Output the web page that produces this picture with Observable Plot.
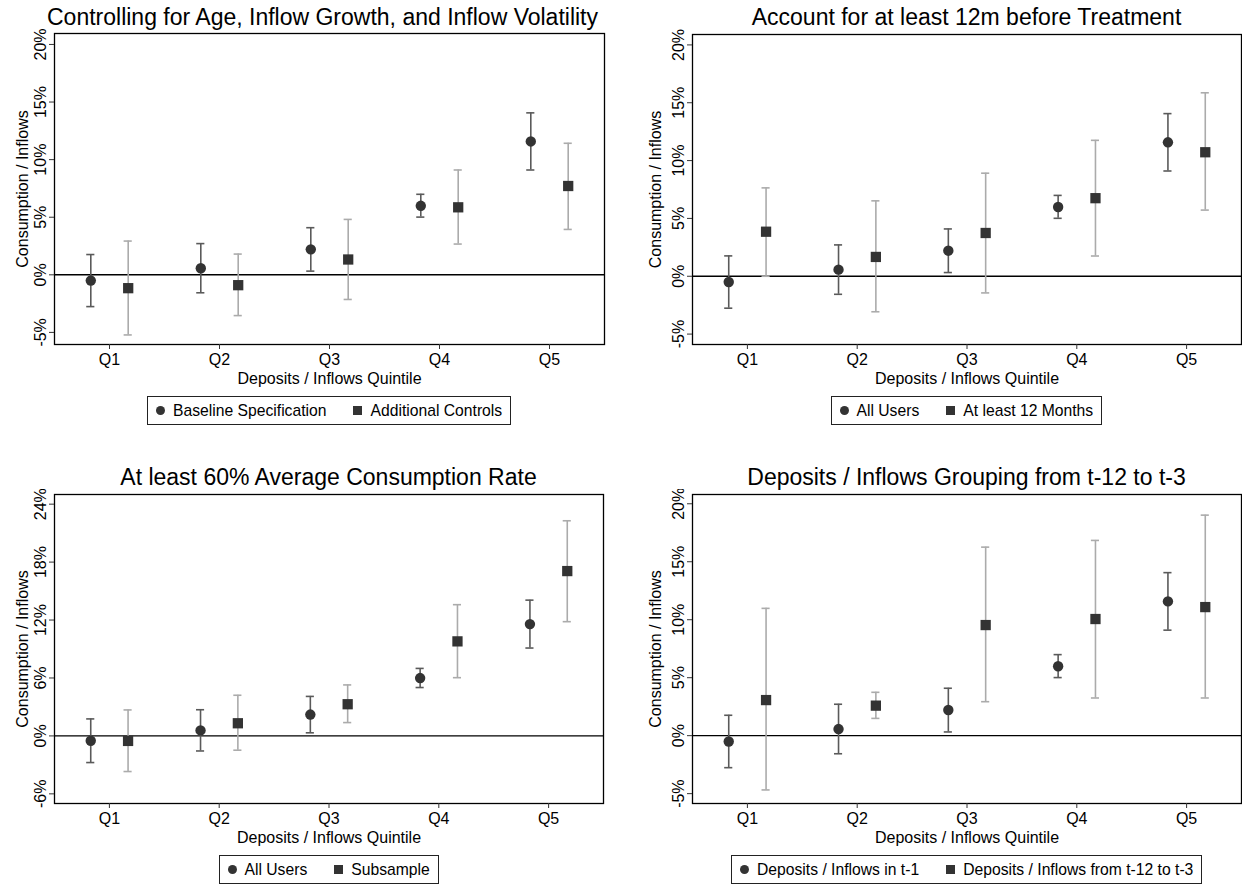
<!DOCTYPE html>
<html><head><meta charset="utf-8">
<script src="https://cdn.jsdelivr.net/npm/d3@7"></script>
<script src="https://cdn.jsdelivr.net/npm/@observablehq/plot@0.6"></script>
<style>
body{margin:0;background:#fff;font-family:"Liberation Sans",Arial,Helvetica,sans-serif;}
#wrap{position:relative;width:1242px;height:884px;overflow:hidden;background:#fff;}
.panel{position:absolute;width:621px;height:442px;}
.title{position:absolute;text-align:center;font-size:23px;line-height:26px;color:#000;white-space:nowrap;}
.plot{position:absolute;left:0;}
.legend{position:absolute;border:1px solid #222;height:27px;display:flex;align-items:center;padding:0 8px;font-size:15.7px;color:#000;white-space:nowrap;}
.legend .item{display:flex;align-items:center;}
.legend .item + .item{margin-left:27px;}
.legend .sym{display:inline-block;width:9px;height:9px;background:#333;margin-right:8px;}
.legend .sym.c{border-radius:50%;}
</style>
</head><body><div id="wrap"></div>
<script>
// ---- data (percent) ----
const quintiles = ["Q1", "Q2", "Q3", "Q4", "Q5"];

const baseline   = [-0.50, 0.57, 2.21, 5.99, 11.58];
const baselineLo = [-2.76, -1.56, 0.32, 5.01, 9.10];
const baselineHi = [1.76, 2.71, 4.09, 6.99, 14.06];

const controls   = [-1.16, -0.90, 1.33, 5.86, 7.71];
const controlsLo = [-5.22, -3.54, -2.14, 2.67, 3.94];
const controlsHi = [2.93, 1.80, 4.81, 9.10, 11.42];

const months12   = [3.85, 1.67, 3.74, 6.75, 10.72];
const months12Lo = [0.00, -3.07, -1.44, 1.75, 5.72];
const months12Hi = [7.64, 6.52, 8.91, 11.75, 15.86];

const subsample   = [-0.52, 1.31, 3.28, 9.79, 17.07];
const subsampleLo = [-3.69, -1.48, 1.38, 6.03, 11.83];
const subsampleHi = [2.69, 4.21, 5.28, 13.59, 22.28];

const lagged   = [3.07, 2.59, 9.54, 10.06, 11.09];
const laggedLo = [-4.68, 1.49, 2.93, 3.25, 3.25];
const laggedHi = [10.98, 3.74, 16.26, 16.84, 19.02];

const ticks5 = [-5, 0, 5, 10, 15, 20];
const ticks6 = [-6, 0, 6, 12, 18, 24];

const titles = [
  "Controlling for Age, Inflow Growth, and Inflow Volatility",
  "Account for at least 12m before Treatment",
  "At least 60% Average Consumption Rate",
  "Deposits / Inflows Grouping from t-12 to t-3"
];
const legends = [
  ["Baseline Specification", "Additional Controls"],
  ["All Users", "At least 12 Months"],
  ["All Users", "Subsample"],
  ["Deposits / Inflows in t-1", "Deposits / Inflows from t-12 to t-3"]
];
const yLabel = "Consumption / Inflows";
const xLabel = "Deposits / Inflows Quintile";

function rows(v, lo, hi, off) {
  return quintiles.map((q, i) => ({q, x: i + 1 + off, y: v[i], lo: lo[i], hi: hi[i]}));
}

const FONT = '"Liberation Sans", Arial, Helvetica, sans-serif';
const OFF = 0.17, CAP = 0.037;

function makePanel(cfg) {
  const {left, top, L, R, T, B, titleY, titleShift = 0, title, yDomain, yTicks, s2, leg, ylabDx} = cfg;
  const el = document.createElement("div");
  el.className = "panel";
  el.style.left = left + "px"; el.style.top = top + "px";
  document.getElementById("wrap").appendChild(el);

  const t = document.createElement("div");
  t.className = "title"; t.textContent = title;
  t.style.left = (L + titleShift) + "px"; t.style.width = (R - L) + "px"; t.style.top = (titleY - 13) + "px";
  el.appendChild(t);

  const r1 = rows(baseline, baselineLo, baselineHi, -OFF);
  const r2 = rows(s2[0], s2[1], s2[2], OFF);
  const svgTop = T - 5;
  const height = (B + 48) - svgTop;
  const plot = Plot.plot({
    width: 621, height,
    marginLeft: L, marginRight: 621 - R, marginTop: 5, marginBottom: 48,
    style: {fontFamily: FONT, fontSize: "16px", color: "#000", background: "transparent"},
    x: {domain: [0.5, 5.5]},
    y: {domain: yDomain},
    marks: [
      Plot.ruleY([0], {stroke: "#000", strokeWidth: 1.4}),
      Plot.ruleX(r1, {x: "x", y1: "lo", y2: "hi", stroke: "#5a5a5a", strokeWidth: 1.6}),
      Plot.ruleY(r1, {y: "lo", x1: d => d.x - CAP, x2: d => d.x + CAP, stroke: "#5a5a5a", strokeWidth: 1.6}),
      Plot.ruleY(r1, {y: "hi", x1: d => d.x - CAP, x2: d => d.x + CAP, stroke: "#5a5a5a", strokeWidth: 1.6}),
      Plot.ruleX(r2, {x: "x", y1: "lo", y2: "hi", stroke: "#ababab", strokeWidth: 1.6}),
      Plot.ruleY(r2, {y: "lo", x1: d => d.x - CAP, x2: d => d.x + CAP, stroke: "#ababab", strokeWidth: 1.6}),
      Plot.ruleY(r2, {y: "hi", x1: d => d.x - CAP, x2: d => d.x + CAP, stroke: "#ababab", strokeWidth: 1.6}),
      Plot.dot(r1, {x: "x", y: "y", r: 5.2, fill: "#333", stroke: null}),
      Plot.dot(r2, {x: "x", y: "y", r: 5.8, symbol: "square", fill: "#333", stroke: null}),
      Plot.frame({stroke: "#000", strokeWidth: 1.3}),
      Plot.axisX({ticks: [1, 2, 3, 4, 5], tickFormat: d => quintiles[d - 1], tickSize: 5, tickPadding: 4, label: null, stroke: "#333"}),
      Plot.axisY({ticks: yTicks, tickFormat: d => d + "%", tickSize: 5, tickRotate: -90, label: null, stroke: "#333"}),
      Plot.text([yLabel], {frameAnchor: "left", textAnchor: "middle", lineAnchor: "middle", rotate: -90, dx: ylabDx, fontSize: 16}),
      Plot.text([xLabel], {frameAnchor: "bottom", textAnchor: "middle", lineAnchor: "middle", dy: 34, fontSize: 16})
    ]
  });
  plot.classList.add("plot");
  plot.style.top = svgTop + "px";
  el.appendChild(plot);

  const lg = document.createElement("div");
  lg.className = "legend";
  lg.innerHTML = `<span class="item"><span class="sym c"></span>${leg[0]}</span><span class="item"><span class="sym"></span>${leg[1]}</span>`;
  lg.style.top = (B + 52) + "px";
  el.appendChild(lg);
  const w = lg.offsetWidth;
  lg.style.left = ((L + R) / 2 - w / 2) + "px";
}

makePanel({left: 0, top: 0, L: 54, R: 604, T: 33, B: 344, titleY: 17, titleShift: -7, title: titles[0],
  yDomain: [-6.05, 20.95], yTicks: ticks5, s2: [controls, controlsLo, controlsHi], leg: legends[0], ylabDx: -32});
makePanel({left: 621, top: 0, L: 71, R: 620, T: 34, B: 344, titleY: 17, title: titles[1],
  yDomain: [-5.9, 20.9], yTicks: ticks5, s2: [months12, months12Lo, months12Hi], leg: legends[1], ylabDx: -37});
makePanel({left: 0, top: 442, L: 54, R: 603, T: 52, B: 361, titleY: 35, title: titles[2],
  yDomain: [-7.0, 25.0], yTicks: ticks6, s2: [subsample, subsampleLo, subsampleHi], leg: legends[2], ylabDx: -32});
makePanel({left: 621, top: 442, L: 71, R: 620, T: 52, B: 361, titleY: 35, title: titles[3],
  yDomain: [-5.85, 20.8], yTicks: ticks5, s2: [lagged, laggedLo, laggedHi], leg: legends[3], ylabDx: -37});
</script>
</body></html>
